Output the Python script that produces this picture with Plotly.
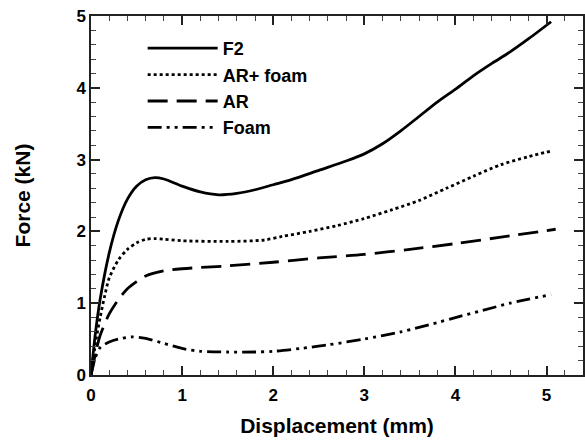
import plotly.graph_objects as go

# F2 (solid)
f2_x = [0, 0.05, 0.1, 0.2, 0.3, 0.4, 0.5, 0.6, 0.7, 0.8, 1.0, 1.2, 1.4, 1.6, 1.8, 2.0, 2.2, 2.5, 2.8, 3.0, 3.2, 3.4, 3.6, 3.8, 4.0, 4.2, 4.4, 4.6, 4.8, 5.05]
f2_y = [0, 0.6, 1.05, 1.7, 2.15, 2.45, 2.63, 2.72, 2.75, 2.73, 2.63, 2.55, 2.51, 2.53, 2.58, 2.65, 2.72, 2.85, 2.98, 3.08, 3.22, 3.4, 3.6, 3.8, 3.98, 4.17, 4.34, 4.5, 4.68, 4.92]

# AR + foam (dotted)
arf_x = [0, 0.05, 0.1, 0.15, 0.2, 0.3, 0.4, 0.5, 0.6, 0.7, 0.8, 1.0, 1.5, 1.9, 2.1, 2.4, 2.7, 3.0, 3.3, 3.6, 3.9, 4.2, 4.5, 4.8, 5.05]
arf_y = [0, 0.45, 0.8, 1.1, 1.35, 1.6, 1.75, 1.84, 1.89, 1.9, 1.89, 1.87, 1.86, 1.88, 1.93, 2.0, 2.08, 2.18, 2.3, 2.43, 2.6, 2.77, 2.93, 3.04, 3.12]

# AR (dashed)
ar_x = [0, 0.05, 0.1, 0.2, 0.3, 0.4, 0.5, 0.6, 0.8, 1.0, 1.5, 2.0, 2.5, 3.0, 3.5, 4.0, 4.5, 5.1]
ar_y = [0, 0.3, 0.55, 0.85, 1.05, 1.2, 1.3, 1.38, 1.45, 1.48, 1.52, 1.57, 1.63, 1.68, 1.75, 1.83, 1.92, 2.03]

# Foam (dash-dot-dot)
foam_x = [0, 0.05, 0.1, 0.2, 0.3, 0.45, 0.6, 0.8, 1.0, 1.2, 1.5, 1.8, 2.0, 2.3, 2.6, 3.0, 3.4, 3.8, 4.0, 4.3, 4.6, 5.05]
foam_y = [0, 0.25, 0.38, 0.46, 0.5, 0.53, 0.51, 0.44, 0.37, 0.33, 0.32, 0.32, 0.33, 0.37, 0.42, 0.5, 0.6, 0.73, 0.8, 0.9, 1.0, 1.12]

series = [
    ("F2", f2_x, f2_y, "solid"),
    ("AR+ foam", arf_x, arf_y, "dot"),
    ("AR", ar_x, ar_y, "20px,9px"),
    ("Foam", foam_x, foam_y, "14px,5px,3px,5px,3px,5px"),
]

X_RANGE = [0, 5.4]
Y_RANGE = [0, 5]
FONT = "Liberation Sans"
AX = "#222"

fig = go.Figure()
for name, xs, ys, dash in series:
    fig.add_trace(go.Scatter(
        x=xs, y=ys, name=name, mode="lines",
        line=dict(color="black", width=2.8, dash=dash, shape="spline", smoothing=0.8),
    ))

major = dict(
    showline=True, linecolor=AX, linewidth=1.5, mirror="allticks",
    tickmode="linear", tick0=0, dtick=1,
    ticks="inside", ticklen=9, tickwidth=1.5, tickcolor=AX,
    showgrid=False, zeroline=False, automargin=False,
    tickfont=dict(family=FONT, size=17, color="black", weight="bold"),
    minor=dict(ticks="inside", ticklen=5, tickwidth=1.2, tickcolor="#444",
               tick0=0, dtick=0.2, showgrid=False),
)

fig.update_layout(
    width=585, height=446,
    margin=dict(l=91, r=2, t=16, b=71),
    paper_bgcolor="white", plot_bgcolor="white",
    showlegend=True,
    legend=dict(
        x=0.105, y=0.961, xanchor="left", yanchor="top",
        bgcolor="rgba(0,0,0,0)", itemwidth=70,
        font=dict(family=FONT, size=18, color="black", weight="bold"),
        tracegroupgap=0,
    ),
    xaxis=dict(
        range=X_RANGE, ticklabelstandoff=4,
        title=dict(text="Displacement (mm)", standoff=14,
                   font=dict(family=FONT, size=21, color="black", weight="bold")),
        **major,
    ),
    yaxis=dict(
        range=Y_RANGE,
        title=dict(text="Force (kN)", standoff=40,
                   font=dict(family=FONT, size=21, color="black", weight="bold")),
        **major,
    ),
)

fig.write_html(
    "out.html",
    config={"displayModeBar": False},
    post_script="document.body.style.margin='0';document.body.style.overflow='hidden';",
)
